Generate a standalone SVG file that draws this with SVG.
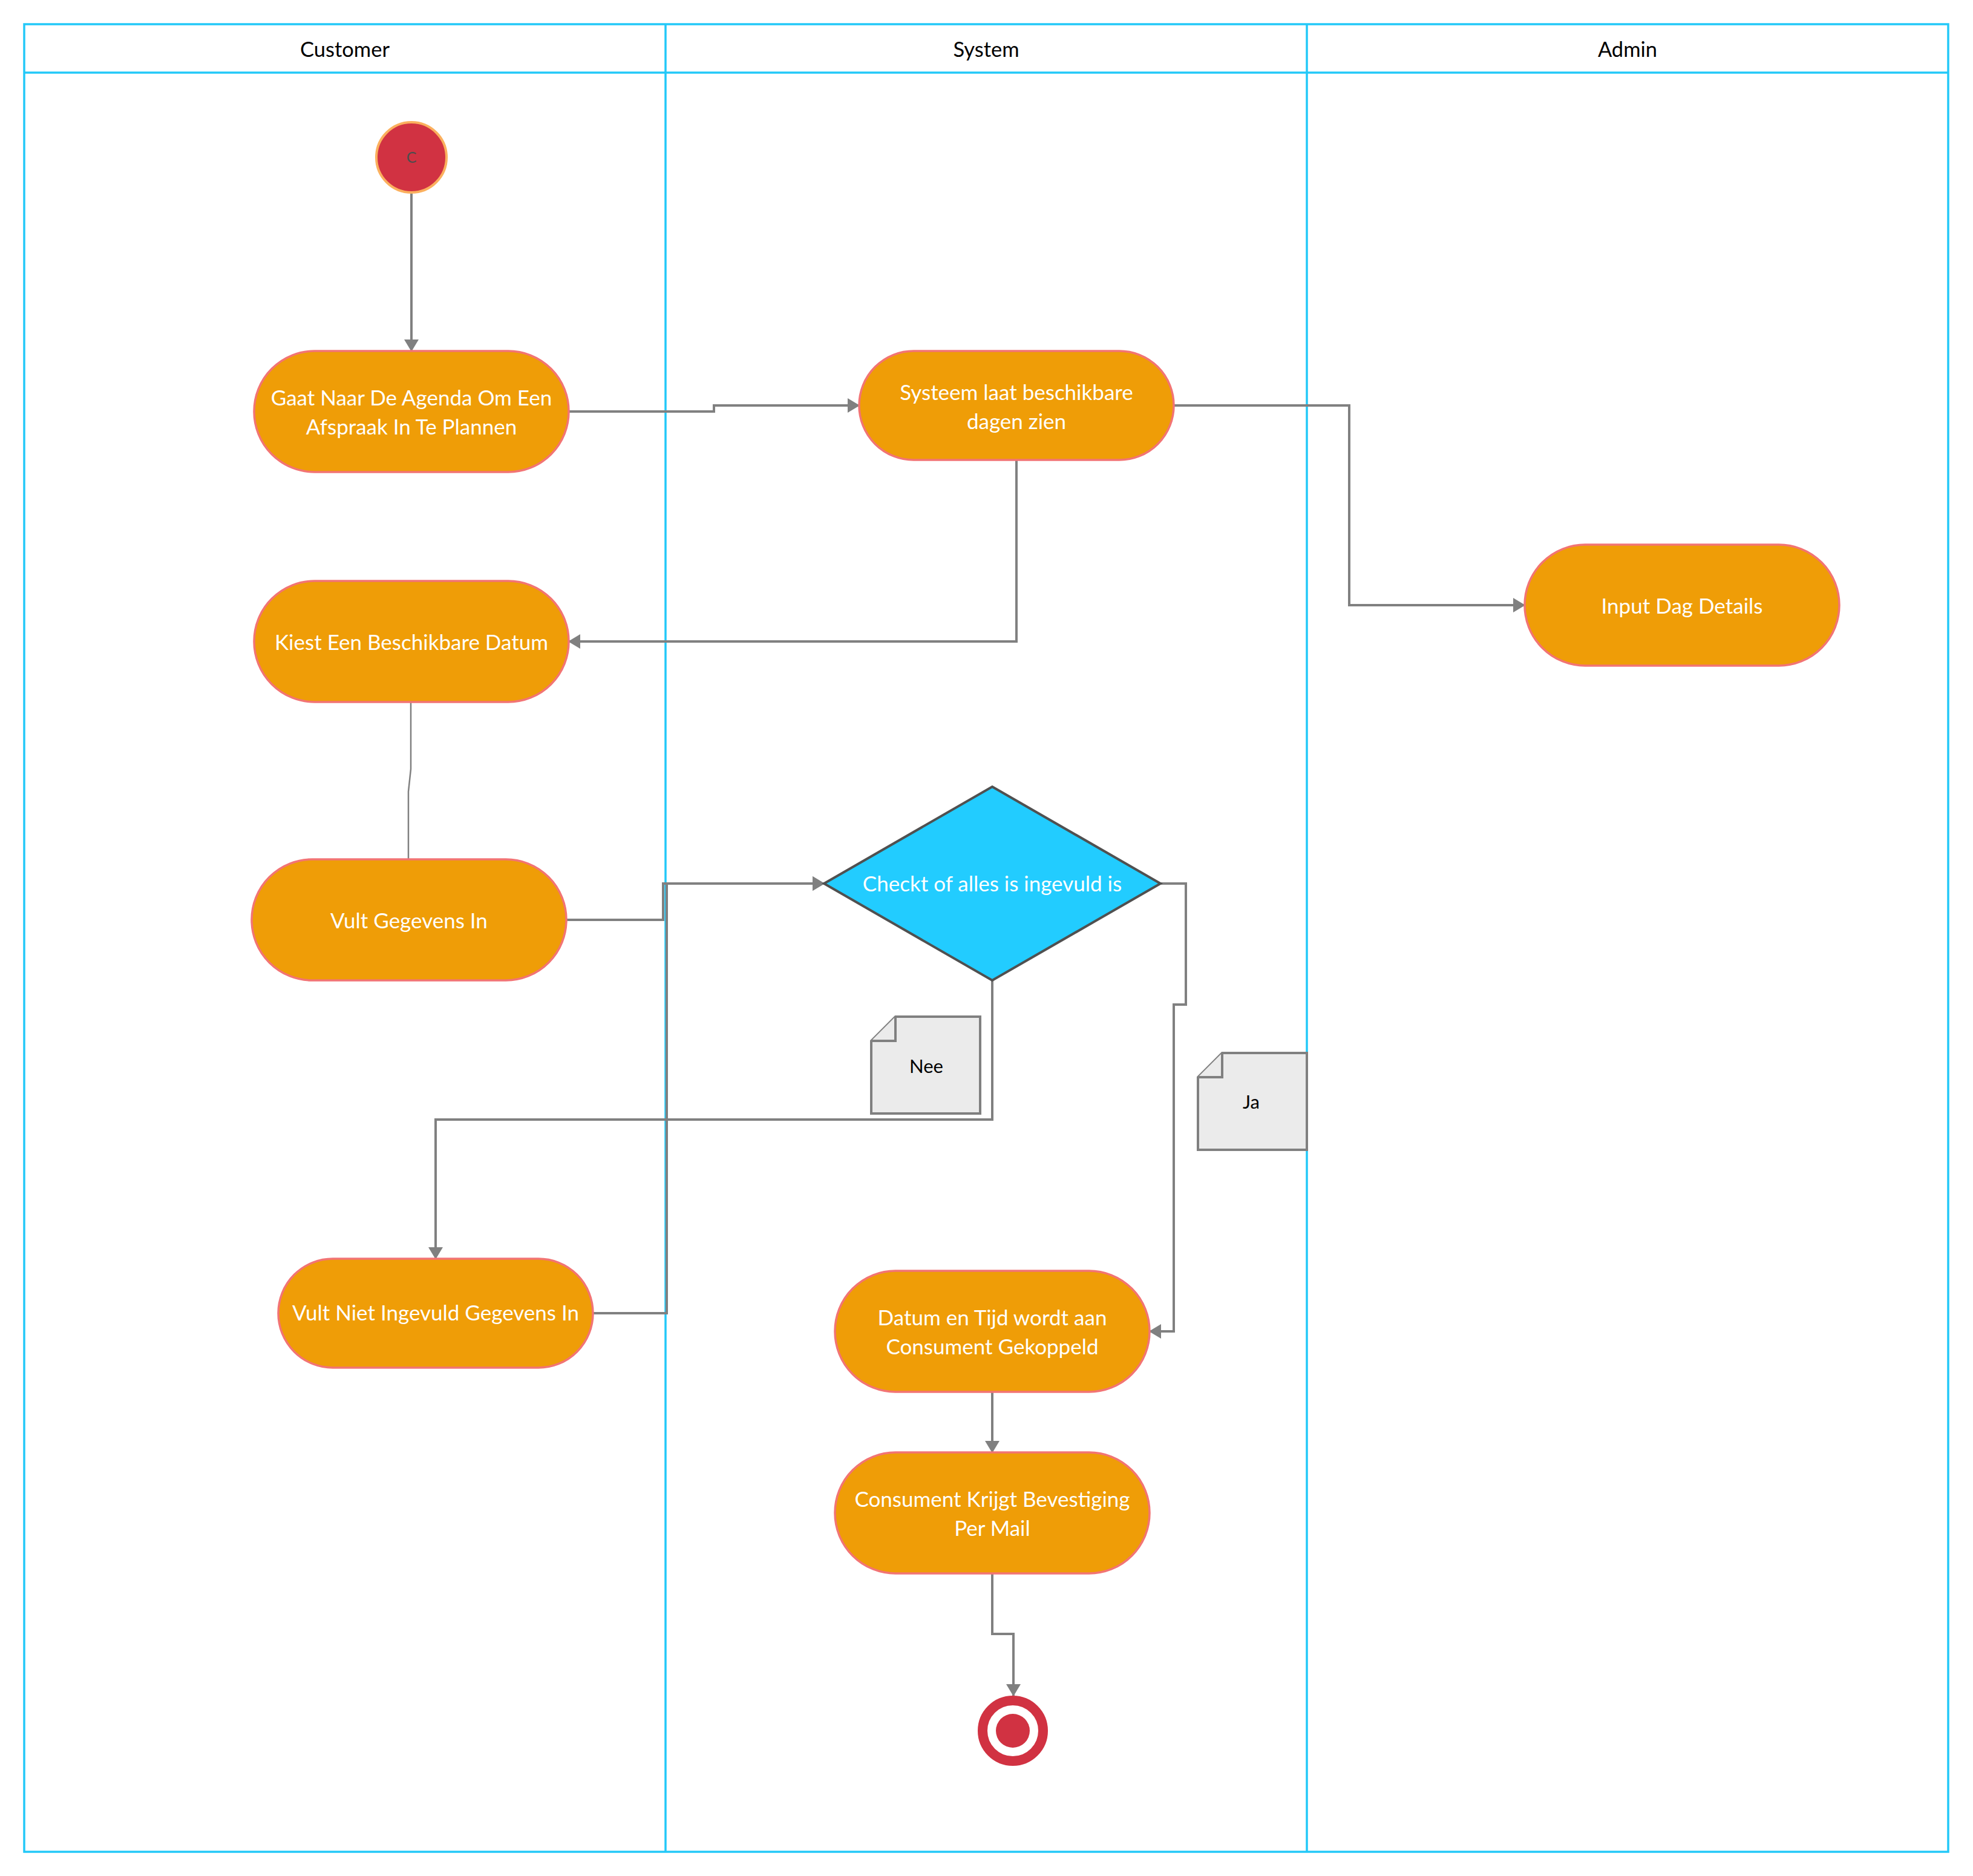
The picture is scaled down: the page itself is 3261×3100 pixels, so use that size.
<svg xmlns="http://www.w3.org/2000/svg" width="3261" height="3100" viewBox="0 0 3261 3100">
<style>
.lane{fill:none;stroke:#22C8F8;stroke-width:3.5}
.hdr{font-family:Lato,"Liberation Sans",sans-serif;font-size:34.5px;fill:#000;text-anchor:middle}
.act{fill:#EF9D07;stroke:#F27474;stroke-width:3.5}
.atx{font-family:Lato,"Liberation Sans",sans-serif;font-size:35px;fill:#fff;text-anchor:middle}
.con{fill:none;stroke:#808080;stroke-width:4}
.thin{fill:none;stroke:#808080;stroke-width:2.5}
.note{fill:#EBEBEB;stroke:#808080;stroke-width:4;stroke-linejoin:miter}
.ntx{font-family:Lato,"Liberation Sans",sans-serif;font-size:31px;fill:#000;text-anchor:middle}
</style>
<defs>
<marker id="arr" viewBox="0 0 20 24" refX="19" refY="12" markerWidth="20" markerHeight="24" markerUnits="userSpaceOnUse" orient="auto">
<path d="M0,0 L20,12 L0,24 Z" fill="#808080"/>
</marker>
</defs>
<rect width="3261" height="3100" fill="#fff"/>
<g id="pool">
<rect class="lane" x="40" y="40" width="3180" height="3020"/>
<line class="lane" x1="40" y1="120" x2="3220" y2="120"/>
<line class="lane" x1="1100" y1="40" x2="1100" y2="3060"/>
<line class="lane" x1="2160" y1="40" x2="2160" y2="3060"/>
<text class="hdr" x="570" y="94">Customer</text>
<text class="hdr" x="1630" y="94">System</text>
<text class="hdr" x="2690" y="94">Admin</text>
</g>
<g id="connectors">
<path class="con" d="M680,320 V580" marker-end="url(#arr)"/>
<path class="con" d="M940,680 H1180 V670 H1420" marker-end="url(#arr)"/>
<path class="con" d="M1940,670 H2230 V1000 H2520" marker-end="url(#arr)"/>
<path class="con" d="M1680,760 V1060 H940" marker-end="url(#arr)"/>
<path class="thin" d="M679,1160 V1271 L675,1308 V1420"/>
<path class="con" d="M936,1520 H1096 V1460 H1362" marker-end="url(#arr)"/>
<path class="con" d="M980,2170 H1102 V1460 H1362" marker-end="url(#arr)"/>
<path class="con" d="M1640,1620 V1850 H720 V2080" marker-end="url(#arr)"/>
<path class="con" d="M1919,1460 H1960 V1660 H1940 V2200 H1900" marker-end="url(#arr)"/>
<path class="con" d="M1640,2300 V2400" marker-end="url(#arr)"/>
<path class="con" d="M1640,2600 V2700 H1675 V2802" marker-end="url(#arr)"/>
</g>
<g id="start">
<circle cx="680" cy="260" r="58" fill="#D13242" stroke="#FBB05E" stroke-width="4"/>
<text x="680" y="269" font-family="Lato,'Liberation Sans',sans-serif" font-size="25" fill="#4D4D4D" text-anchor="middle">C</text>
</g>
<g id="n1">
<rect class="act" x="420" y="580" width="520" height="200" rx="100"/>
<text class="atx" x="680" y="670">Gaat Naar De Agenda Om Een</text>
<text class="atx" x="680" y="718">Afspraak In Te Plannen</text>
</g>
<g id="n2">
<rect class="act" x="1420" y="580" width="520" height="180" rx="90"/>
<text class="atx" x="1680" y="661">Systeem laat beschikbare</text>
<text class="atx" x="1680" y="709">dagen zien</text>
</g>
<g id="n_admin">
<rect class="act" x="2520" y="900" width="520" height="200" rx="100"/>
<text class="atx" x="2780" y="1014">Input Dag Details</text>
</g>
<g id="n3">
<rect class="act" x="420" y="960" width="520" height="200" rx="100"/>
<text class="atx" x="680" y="1074">Kiest Een Beschikbare Datum</text>
</g>
<g id="n4">
<rect class="act" x="416" y="1420" width="520" height="200" rx="100"/>
<text class="atx" x="676" y="1534">Vult Gegevens In</text>
</g>
<g id="decision">
<path d="M1640,1300 L1918,1460 L1640,1620 L1362,1460 Z" fill="#22CCFF" stroke="#505050" stroke-width="4" stroke-linejoin="miter"/>
<text class="atx" x="1640" y="1473">Checkt of alles is ingevuld is</text>
</g>
<g id="note_nee">
<path class="note" d="M1480,1680 H1620 V1840 H1440 V1720 Z"/>
<path class="note" d="M1440,1720 H1480 V1680"/>
<text class="ntx" x="1531" y="1773">Nee</text>
</g>
<g id="note_ja">
<path class="note" d="M2020,1740 H2160 V1900 H1980 V1780 Z"/>
<path class="note" d="M1980,1780 H2020 V1740"/>
<text class="ntx" x="2068" y="1832">Ja</text>
</g>
<g id="n5">
<rect class="act" x="460" y="2080" width="520" height="180" rx="90"/>
<text class="atx" x="720" y="2182">Vult Niet Ingevuld Gegevens In</text>
</g>
<g id="n6">
<rect class="act" x="1380" y="2100" width="520" height="200" rx="100"/>
<text class="atx" x="1640" y="2190">Datum en Tijd wordt aan</text>
<text class="atx" x="1640" y="2238">Consument Gekoppeld</text>
</g>
<g id="n7">
<rect class="act" x="1380" y="2400" width="520" height="200" rx="100"/>
<text class="atx" x="1640" y="2490">Consument Krijgt Bevestiging</text>
<text class="atx" x="1640" y="2538">Per Mail</text>
</g>
<g id="end">
<circle cx="1674" cy="2860" r="50" fill="#fff" stroke="#D13242" stroke-width="16"/>
<circle cx="1674" cy="2860" r="28" fill="#D13242"/>
</g>
</svg>
